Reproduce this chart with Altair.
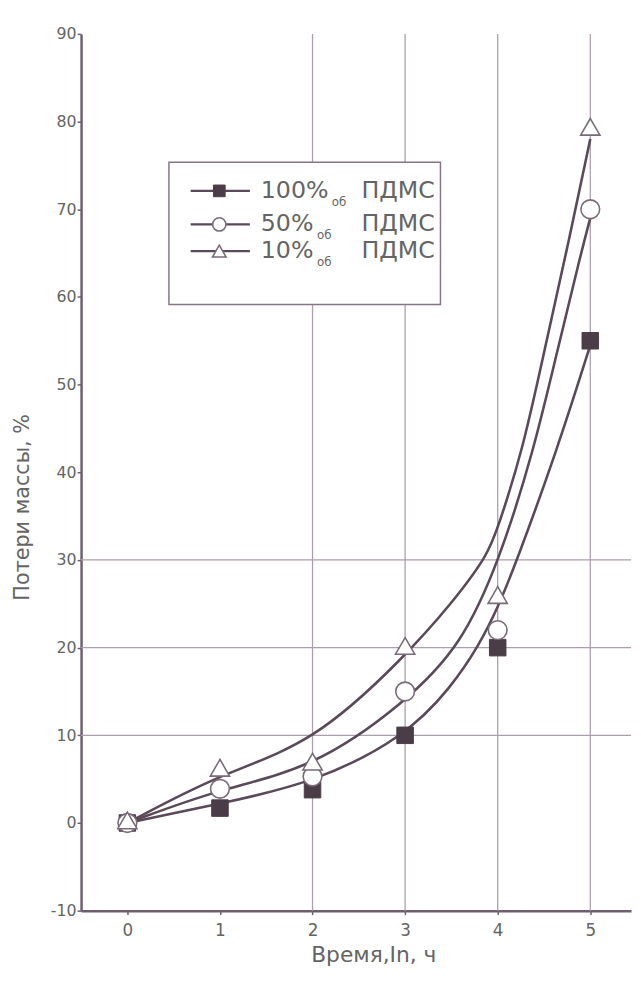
import altair as alt
import pandas as pd

# ---- data ----
time_h = [0, 1, 2, 3, 4, 5]
loss_100 = [0, 1.7, 3.8, 10, 20, 55]
loss_50 = [0, 3.9, 5.3, 15, 22, 70]
loss_10 = [0.3, 6.3, 7, 20.2, 26, 79.4]

# smooth trend curves drawn in the figure (positions)
curve_100_t = [0, 1, 2, 3, 3.5, 3.8, 4, 4.21, 4.64, 5]
curve_100_v = [0, 2.2, 4.5, 9.8, 15.5, 20.3, 24.5, 30, 42.5, 54.5]
curve_50_t = [0, 1, 2, 3, 3.61, 4.02, 4.39, 4.64, 4.9, 5]
curve_50_v = [0, 3.9, 6.2, 13.7, 20.3, 30, 42.5, 53.7, 65, 69]
curve_10_t = [0, 1, 2, 3, 3.5, 3.89, 4, 4.27, 4.5, 4.74, 5]
curve_10_v = [0, 5.6, 9, 19, 25, 30.5, 33.6, 42.5, 53.7, 65, 78]

series_pct = ["100%", "50%", "10%"]
series_sub = "об"
series_rest = "ПДМС"

grid_x = [2, 3, 4, 5]
grid_y = [10, 20, 30]
y_ticks = [-10, 0, 10, 20, 30, 40, 50, 60, 70, 80, 90]
x_ticks = [0, 1, 2, 3, 4, 5]

FONT = "DejaVu Sans"
AXIS_C = "#6e5e6e"
GRID_C = "#ab9fab"
LINE_C = "#5a4958"
TEXT_C = "#646464"

xs = alt.Scale(domain=[-0.5, 5.44], nice=False, zero=False)
ys = alt.Scale(domain=[-10, 90], nice=False, zero=False)

x_axis = alt.Axis(values=x_ticks, grid=False, domainColor=AXIS_C, domainWidth=2.5,
                  tickColor=AXIS_C, tickSize=4, tickWidth=1.5, labelFont=FONT,
                  labelFontSize=17, labelColor=TEXT_C, labelPadding=8,
                  labelExpr="datum.value + ''",
                  title="Время,In, ч", titleFont=FONT, titleFontSize=22,
                  titleFontWeight="normal", titleColor=TEXT_C, titleX=296, titleY=34)
y_axis = alt.Axis(values=y_ticks, grid=False, domainColor=AXIS_C, domainWidth=2.5,
                  tickColor=AXIS_C, tickSize=4, tickWidth=1.5, labelFont=FONT,
                  labelFontSize=16, labelColor=TEXT_C, labelPadding=1,
                  labelExpr="datum.value + ''",
                  title="Потери массы, %", titleFont=FONT, titleFontSize=21,
                  titleFontWeight="normal", titleColor=TEXT_C, titleX=-49, titleY=479)

X = lambda: alt.X("t:Q", scale=xs, axis=x_axis, title="Время,In, ч")
Y = lambda: alt.Y("v:Q", scale=ys, axis=y_axis, title="Потери массы, %")

layers = []

# partial grid
layers.append(alt.Chart(pd.DataFrame({"t": grid_x})).mark_rule(color=GRID_C, strokeWidth=1.3)
              .encode(x=X()))
layers.append(alt.Chart(pd.DataFrame({"v": grid_y})).mark_rule(color=GRID_C, strokeWidth=1.3)
              .encode(y=Y()))

# curves
for ct, cv in [(curve_100_t, curve_100_v), (curve_50_t, curve_50_v), (curve_10_t, curve_10_v)]:
    df = pd.DataFrame({"t": ct, "v": cv})
    layers.append(alt.Chart(df).mark_line(color=LINE_C, strokeWidth=2.6, interpolate="basis")
                  .encode(x=X(), y=Y()))

# markers
styles = [
    dict(shape="square", filled=True, fill="#4a3d48", stroke="#4a3d48", strokeWidth=1, size=280, opacity=1),
    dict(shape="circle", filled=True, fill="white", stroke="#7a6b78", strokeWidth=1.6, size=360, opacity=1),
    dict(shape="triangle-up", filled=True, fill="white", stroke="#7a6b78", strokeWidth=1.6, size=380, opacity=1),
]
for vals, st in zip([loss_100, loss_50, loss_10], styles):
    df = pd.DataFrame({"t": time_h, "v": vals})
    layers.append(alt.Chart(df).mark_point(**st).encode(x=X(), y=Y()))

# legend box (white, hides grid)
layers.append(alt.Chart(pd.DataFrame({"k": [0]})).mark_rect(fill="white", stroke="#857685", strokeWidth=1.5)
              .encode(x=alt.value(89), x2=alt.value(364), y=alt.value(130), y2=alt.value(274)))

row_y = [159, 193, 220]
sub_x = [254, 239, 239]
for i, (pct, st) in enumerate(zip(series_pct, styles)):
    yy = row_y[i]
    layers.append(alt.Chart(pd.DataFrame({"k": [0]})).mark_rule(color=LINE_C, strokeWidth=2.2)
                  .encode(x=alt.value(111), x2=alt.value(171), y=alt.value(yy)))
    st2 = dict(st)
    st2["size"] = st["size"] * 0.5
    layers.append(alt.Chart(pd.DataFrame({"k": [0]})).mark_point(**st2)
                  .encode(x=alt.value(140), y=alt.value(yy)))
    layers.append(alt.Chart(pd.DataFrame({"label": [pct]}))
                  .mark_text(font=FONT, fontSize=24, color=TEXT_C, align="left", baseline="middle")
                  .encode(x=alt.value(182), y=alt.value(yy), text="label:N"))
    layers.append(alt.Chart(pd.DataFrame({"label": [series_sub]}))
                  .mark_text(font=FONT, fontSize=12, color=TEXT_C, align="left", baseline="middle")
                  .encode(x=alt.value(sub_x[i]), y=alt.value(yy + 11), text="label:N"))
    layers.append(alt.Chart(pd.DataFrame({"label": [series_rest]}))
                  .mark_text(font=FONT, fontSize=24, color=TEXT_C, align="left", baseline="middle")
                  .encode(x=alt.value(284), y=alt.value(yy), text="label:N"))

chart = alt.layer(*layers).properties(
    width=557, height=888,
    autosize=alt.AutoSizeParams(type="none"),
    padding={"left": 74, "top": 20, "right": 2, "bottom": 64},
    background="white",
).configure_view(strokeWidth=0)

chart.save("out.html", embed_options={"renderer": "svg", "actions": False})
